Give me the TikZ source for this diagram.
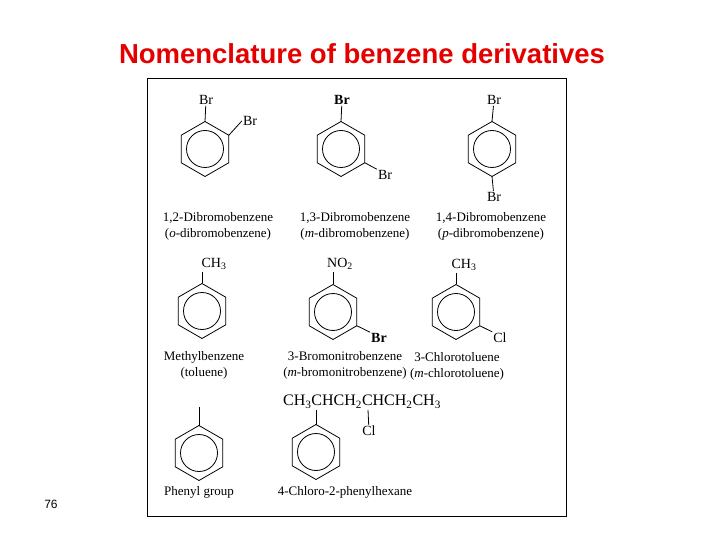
\documentclass[tikz,border=0pt]{standalone}
\usepackage{fontspec}
\setmainfont{Liberation Serif}
\newfontfamily\arialf{Liberation Sans}
\usetikzlibrary{shapes.geometric}
\tikzset{
  ring/.style={regular polygon,regular polygon sides=6,shape border rotate=30,draw,minimum size=55pt,inner sep=0pt,outer sep=0pt,line width=0.8pt},
  inner/.style={circle,draw,minimum size=37pt,inner sep=0pt,line width=0.8pt},
  lbl/.style={font=\fontsize{14}{16}\selectfont,inner sep=1pt},
  nm/.style={font=\fontsize{13}{16}\selectfont,align=center,inner sep=0pt},
  bond/.style={line width=0.8pt}
}
\newcommand\sub[1]{\textsubscript{#1}}
\begin{document}
\begin{tikzpicture}[x=1pt,y=-1pt]
\useasboundingbox (0,0) rectangle (720,540);
\node[font=\arialf\bfseries\fontsize{27.5}{30}\selectfont,text=red!90!black] (title) at (362,54) {Nomenclature of benzene derivatives};
\node[font=\arialf\fontsize{12}{14}\selectfont] (pg) at (51,504) {76};
\node[draw,line width=0.8pt,minimum width=419pt,minimum height=438pt,inner sep=0pt] (frame) at (356.5,297) {};
% row 1
\node[ring] (r1) at (205,149) {}; \node[inner] (c1) at (205,149) {};
\node[lbl] (r1a) at (206,100) {Br}; \draw[bond] (r1.90) -- (r1a);
\node[lbl] (r1b) at (250,121) {Br}; \draw[bond] (r1.30) -- (r1b.west);
\node[nm] (n1) at (218,226) {1,2-Dibromobenzene\\(\emph{o}-dibromobenzene)};
\node[ring] (r2) at (341,149) {}; \node[inner] (c2) at (341,149) {};
\node[lbl,font=\fontsize{14}{16}\selectfont\bfseries] (r2a) at (342,100) {Br}; \draw[bond] (r2.90) -- (r2a);
\node[lbl] (r2b) at (385,175) {Br}; \draw[bond] (r2.-30) -- (r2b.north west);
\node[nm] (n2) at (355,226) {1,3-Dibromobenzene\\(\emph{m}-dibromobenzene)};
\node[ring] (r3) at (492,149) {}; \node[inner] (c3) at (492,149) {};
\node[lbl] (r3a) at (494,100) {Br}; \draw[bond] (r3.90) -- (r3a);
\node[lbl] (r3b) at (494,197) {Br}; \draw[bond] (r3.-90) -- (r3b);
\node[nm] (n3) at (491,226) {1,4-Dibromobenzene\\(\emph{p}-dibromobenzene)};
% row 2
\node[ring] (r4) at (202,311) {}; \node[inner] (c4) at (202,311) {};
\node[lbl] (r4a) at (214,264) {CH\sub{3}}; \draw[bond] (r4.90) -- (202,272);
\node[nm] (n4) at (204,365) {Methylbenzene\\(toluene)};
\node[ring] (r5) at (333,312) {}; \node[inner] (c5) at (333,312) {};
\node[lbl] (r5a) at (340,264) {NO\sub{2}}; \draw[bond] (r5.90) -- (333,272);
\node[lbl,font=\fontsize{14}{16}\selectfont\bfseries] (r5b) at (379,338) {Br}; \draw[bond] (r5.-30) -- (r5b.north west);
\node[nm] (n5) at (345,365) {3-Bromonitrobenzene\\(\emph{m}-bromonitrobenzene)};
\node[ring] (r6) at (456,312) {}; \node[inner] (c6) at (456,312) {};
\node[lbl] (r6a) at (464,265) {CH\sub{3}}; \draw[bond] (r6.90) -- (456,273);
\node[lbl] (r6b) at (500,338) {Cl}; \draw[bond] (r6.-30) -- (r6b.north west);
\node[nm] (n6) at (457,366) {3-Chlorotoluene\\(\emph{m}-chlorotoluene)};
% row 3
\node[ring] (r7) at (199,453) {}; \node[inner] (c7) at (199,453) {};
\coordinate (r7t) at (199,407); \draw[bond] (r7.90) -- (r7t);
\node[nm] (n7) at (199,492) {Phenyl group};
\node[lbl,font=\fontsize{16}{18}\selectfont] (ch) at (362,402) {CH\sub{3}CHCH\sub{2}CHCH\sub{2}CH\sub{3}};
\node[ring] (r8) at (316,452) {}; \node[inner] (c8) at (316,452) {};
\draw[bond] (r8.90) -- (316,410);
\node[lbl] (cl) at (369,431) {Cl}; \draw[bond] (368,410) -- (cl);
\node[nm] (n8) at (345,492) {4-Chloro-2-phenylhexane};
\end{tikzpicture}
\end{document}
